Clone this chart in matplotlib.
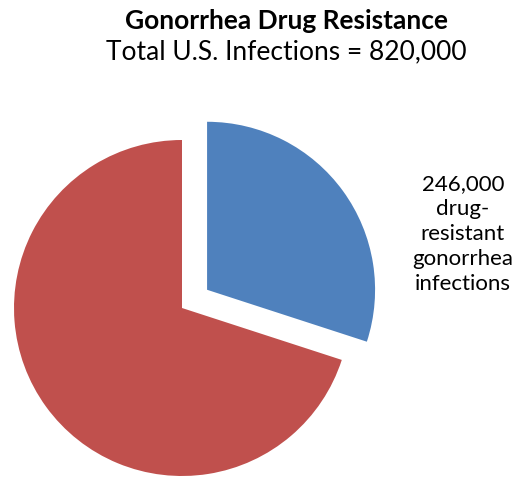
import matplotlib
matplotlib.use("Agg")
import matplotlib.pyplot as plt

labels = ["drug-resistant", "other"]
infections = [246000, 574000]
colors = ["#4F81BD", "#C0504D"]

plt.rcParams["font.family"] = ["Lato", "DejaVu Sans"]

fig = plt.figure(figsize=(5.26, 4.78), dpi=100)
ax = fig.add_axes([0, 0, 1, 1])

# axes in pixel units, so explode is a pixel offset
ax.pie(infections, colors=colors, explode=[31, 0], startangle=90,
       counterclock=False, center=(182, 170), radius=168,
       wedgeprops=dict(linewidth=0), frame=True)
ax.set_xlim(0, 526)
ax.set_ylim(0, 478)
ax.set_aspect("equal")
ax.axis("off")

fig.text(0.545, 1 - 21 / 478, "Gonorrhea Drug Resistance", ha="center", va="center",
         fontsize=19, fontweight="bold")
fig.text(0.545, 1 - 52 / 478, "Total U.S. Infections = 820,000", ha="center", va="center",
         fontsize=19)
fig.text(463 / 526, 1 - 234 / 478, "246,000\ndrug-\nresistant\ngonorrhea\ninfections",
         ha="center", va="center", fontsize=16, linespacing=1.3)

fig.savefig("out.png", dpi=100)
